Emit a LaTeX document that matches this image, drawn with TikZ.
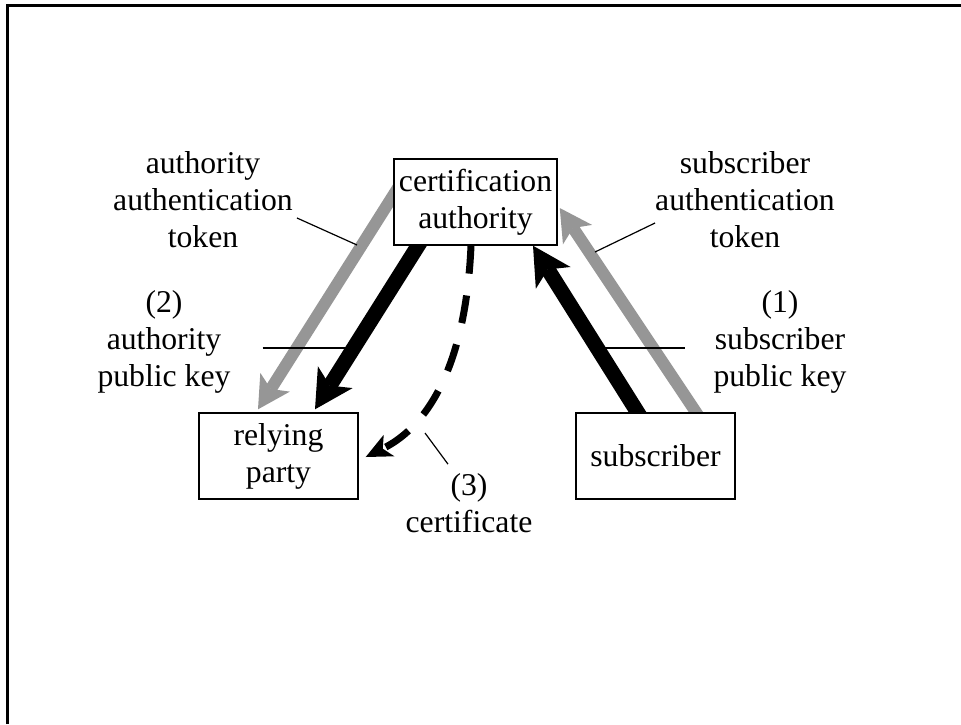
\documentclass[tikz,border=0pt]{standalone}
\usepackage{fontspec}
\setmainfont{Liberation Serif}
\usetikzlibrary{arrows.meta,calc,backgrounds}
\definecolor{arrowgray}{RGB}{150,150,150}
\begin{document}
\begin{tikzpicture}[x=1pt,y=-1pt,font=\fontsize{31.7}{37}\selectfont,
  box/.style={draw,line width=1.4pt,fill=white,minimum width=159pt,minimum height=86pt,inner xsep=5pt,inner ysep=3pt,align=center},
  lbl/.style={align=center,inner sep=3pt},
  blk/.style={line width=15pt,-{Stealth[length=38pt,width=41pt,inset=10pt,line width=0pt]}},
  gry/.style={color=arrowgray,line width=12pt,-{Stealth[length=32pt,width=35pt,inset=8pt,line width=0pt]}},
  dsh/.style={line width=7pt,dash pattern=on 28pt off 22pt,-{Stealth[length=26pt,width=24pt,inset=7pt,line width=0pt]}},
  leader/.style={line width=1.2pt}]
\useasboundingbox (0,0) rectangle (961,724);
\draw[line width=2.2pt] (7.5,724) -- (7.5,5.5) -- (961,5.5);

\node[box] (ca) at (475.5,202) {certification\\authority};
\node[box] (rp) at (278.5,456) {relying\\party};
\node[box] (sub) at (655.5,456) {subscriber};

\begin{scope}[on background layer]
\draw[gry] ($(ca.west)+(11,-24)$) -- ($(rp.north)+(-20.5,-3)$);
\draw[blk] ($(ca.south)+(-48,-15)$) -- ($(rp.north)+(36.5,-3)$);
\draw[dsh] ($(ca.south)+(-4.5,0)$) .. controls ($(ca.south)+(-9.5,115)$) and ($(rp.east)+(72,-31)$) .. ($(rp.east)+(7,1)$);
\draw[blk] ($(sub.north)+(-8.5,15)$) -- ($(ca.south)+(57.5,0)$);
\draw[gry] ($(sub.north)+(50.5,15)$) -- ($(ca.east)+(2,6)$);
\end{scope}

\node[lbl] (ltok) at (203,200) {authority\\authentication\\token};
\node[lbl] (rtok) at (745,200) {subscriber\\authentication\\token};
\node[lbl] (lkey) at (164,341.5) {(2)\\authority\\public key};
\node[lbl] (rkey) at (780,341.5) {(1)\\subscriber\\public key};
\node[lbl] (cert) at (469,503) {(3)\\certificate};

\coordinate (ltokend) at (357,245);
\coordinate (lkeyend) at (355,348);
\coordinate (rtokend) at (595,252);
\coordinate (rkeyend) at (605,348);
\coordinate (certend) at (425,433);

\draw[leader] ($(ltok.east)+(1,18)$) -- (ltokend);
\draw[leader] ($(lkey.east)+(29,6.5)$) -- (lkeyend);
\draw[leader] ($(rtok.west)+(3,23)$) -- (rtokend);
\draw[leader] ($(rkey.west)+(-25.5,6.5)$) -- (rkeyend);
\draw[leader] ($(cert.north)+(-21,-6)$) -- (certend);
\end{tikzpicture}
\end{document}
